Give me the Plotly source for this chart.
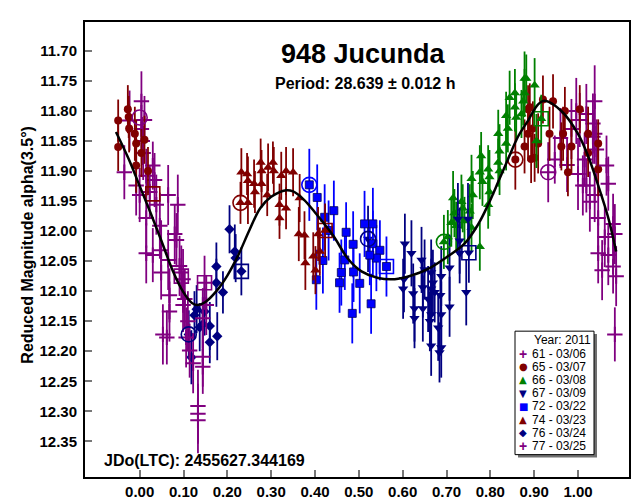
import plotly.graph_objects as go

sessions = ["61 - 03/06", "65 - 03/07", "66 - 03/08", "67 - 03/09",
            "72 - 03/22", "74 - 03/23", "76 - 03/24", "77 - 03/25"]

phase_61 = [-0.035, -0.023, -0.008, 0.000, 0.004, 0.004, 0.006, 0.008, 0.011, 0.015,
            0.015, 0.023, 0.030, 0.034, 0.038, 0.046, 0.015, 0.030, 0.049, 0.049,
            0.932, 0.947, 0.960, 0.975, 0.985, 0.996, 1.000, 1.004, 1.011, 1.015,
            1.019, 1.019, 1.027, 1.034, 1.034, 1.038, 1.038, 1.038, 1.042, 1.046,
            1.046]
mag_61 = [11.902, 11.816, 11.924, 11.940, 11.784, 11.830, 11.850, 11.870, 11.815, 11.908,
          11.978, 11.935, 11.891, 11.915, 11.956, 11.991, 12.037, 12.040, 12.032, 12.069,
          11.902, 11.881, 11.845, 11.890, 11.830, 11.800, 11.905, 11.815, 11.924, 11.881,
          11.805, 11.924, 11.951, 11.821, 11.843, 11.784, 11.838, 11.940, 11.864, 11.978,
          12.037]
err_61 = [0.045, 0.05, 0.05, 0.045, 0.05, 0.04, 0.04, 0.045, 0.04, 0.045,
          0.05, 0.045, 0.04, 0.045, 0.05, 0.055, 0.05, 0.045, 0.05, 0.045,
          0.05, 0.04, 0.05, 0.045, 0.05, 0.055, 0.06, 0.045, 0.05, 0.045,
          0.05, 0.045, 0.05, 0.05, 0.045, 0.06, 0.05, 0.045, 0.05, 0.055,
          0.05]

phase_65 = [-0.049, -0.049, -0.027, -0.025, -0.024, -0.011, -0.008, -0.008, 0.011, 0.019,
            0.004, 0.857, 0.878, 0.886, 0.886, 0.890, 0.893, 0.897, 0.901, 0.909,
            0.920, 0.935, 0.943, 0.962, 0.966, 0.970, 0.977, 0.985, 1.004, 1.023,
            1.023, 1.046, 1.046]
mag_65 = [11.816, 11.860, 11.797, 11.810, 11.829, 11.838, 11.854, 11.891, 11.848, 11.900,
          11.870, 11.881, 11.859, 11.797, 11.838, 11.794, 11.880, 11.829, 11.878, 11.854,
          11.781, 11.838, 11.784, 11.859, 11.838, 11.800, 11.902, 11.859, 11.797, 11.838,
          11.870, 11.854, 11.897]
err_65 = [0.035, 0.04, 0.04, 0.035, 0.04, 0.045, 0.04, 0.045, 0.04, 0.04,
          0.04, 0.05, 0.045, 0.04, 0.045, 0.04, 0.04, 0.045, 0.04, 0.05,
          0.04, 0.045, 0.045, 0.04, 0.045, 0.04, 0.04, 0.045, 0.04, 0.045,
          0.04, 0.04, 0.045]

phase_66 = [0.694, 0.703, 0.711, 0.715, 0.718, 0.722, 0.734, 0.737, 0.741, 0.753,
            0.757, 0.760, 0.757, 0.776, 0.776, 0.779, 0.782, 0.795, 0.798, 0.798,
            0.795, 0.818, 0.821, 0.818, 0.821, 0.836, 0.840, 0.836, 0.844, 0.856,
            0.856, 0.859, 0.878, 0.878, 0.875, 0.871, 0.901, 0.882, 0.905, 0.916]
mag_66 = [12.018, 12.010, 11.986, 11.945, 11.970, 11.991, 11.951, 11.962, 11.983, 11.967,
          11.913, 11.940, 11.994, 12.026, 11.902, 11.875, 11.918, 11.897, 11.910, 11.935,
          11.956, 11.838, 11.867, 11.886, 11.900, 11.808, 11.829, 11.854, 11.778, 11.770,
          11.794, 11.811, 11.746, 11.770, 11.784, 11.805, 11.757, 11.746, 11.850, 11.813]
err_66 = [0.045, 0.045, 0.04, 0.045, 0.04, 0.04, 0.045, 0.04, 0.04, 0.045,
          0.04, 0.04, 0.04, 0.04, 0.045, 0.04, 0.04, 0.04, 0.045, 0.04,
          0.04, 0.04, 0.045, 0.04, 0.04, 0.04, 0.04, 0.045, 0.045, 0.04,
          0.04, 0.04, 0.045, 0.04, 0.04, 0.04, 0.045, 0.04, 0.045, 0.04]

phase_67 = [0.521, 0.601, 0.603, 0.605, 0.620, 0.624, 0.627, 0.627, 0.643, 0.646,
            0.646, 0.650, 0.658, 0.662, 0.665, 0.665, 0.665, 0.665, 0.669, 0.673,
            0.681, 0.684, 0.686, 0.688, 0.688, 0.688, 0.707, 0.707, 0.726, 0.730,
            0.730, 0.745, 0.749, 0.751]
mag_67 = [12.013, 12.096, 12.080, 12.021, 12.037, 12.104, 12.129, 12.145, 12.048, 12.094,
          12.129, 12.064, 12.113, 12.150, 12.069, 12.096, 12.139, 12.191, 12.086, 12.102,
          12.161, 12.202, 12.107, 12.075, 12.139, 12.194, 12.061, 12.126, 11.980, 12.016,
          12.037, 12.102, 11.980, 12.036]
err_67 = [0.055, 0.05, 0.055, 0.05, 0.055, 0.05, 0.055, 0.05, 0.055, 0.05,
          0.055, 0.05, 0.055, 0.05, 0.055, 0.05, 0.055, 0.05, 0.055, 0.05,
          0.055, 0.05, 0.055, 0.05, 0.055, 0.05, 0.055, 0.05, 0.06, 0.055,
          0.05, 0.055, 0.06, 0.05]

phase_72 = [0.387, 0.405, 0.443, 0.422, 0.431, 0.418, 0.403, 0.456, 0.460, 0.471,
            0.468, 0.487, 0.488, 0.502, 0.513, 0.532, 0.528, 0.485, 0.532, 0.548,
            0.540, 0.525, 0.563]
mag_72 = [11.923, 11.944, 11.966, 11.977, 11.999, 12.049, 12.081, 12.086, 12.069, 12.002,
          12.048, 12.022, 12.068, 12.087, 11.988, 11.988, 12.121, 12.137, 12.021, 12.032,
          12.045, 12.040, 12.059]
err_72 = [0.06, 0.055, 0.05, 0.055, 0.05, 0.055, 0.05, 0.05, 0.055, 0.05,
          0.05, 0.055, 0.05, 0.05, 0.055, 0.06, 0.05, 0.05, 0.055, 0.05,
          0.055, 0.05, 0.05]

phase_74 = [0.230, 0.232, 0.245, 0.247, 0.247, 0.261, 0.263, 0.276, 0.278, 0.278,
            0.291, 0.293, 0.304, 0.306, 0.319, 0.323, 0.319, 0.334, 0.334, 0.350,
            0.365, 0.363, 0.376, 0.378, 0.396, 0.407, 0.411, 0.401, 0.423]
mag_74 = [11.953, 11.902, 11.905, 11.916, 11.953, 11.921, 11.935, 11.886, 11.900, 11.921,
          11.940, 11.894, 11.886, 11.900, 11.956, 11.908, 11.978, 11.900, 11.962, 11.902,
          11.945, 12.005, 12.007, 12.053, 12.042, 12.005, 12.034, 12.065, 11.999]
err_74 = [0.035, 0.04, 0.035, 0.04, 0.035, 0.04, 0.035, 0.04, 0.035, 0.04,
          0.035, 0.04, 0.035, 0.04, 0.035, 0.04, 0.035, 0.04, 0.035, 0.04,
          0.04, 0.045, 0.04, 0.045, 0.04, 0.045, 0.04, 0.04, 0.045]

phase_76 = [0.112, 0.118, 0.125, 0.130, 0.137, 0.144, 0.148, 0.160, 0.160, 0.175,
            0.175, 0.177, 0.190, 0.205, 0.217, 0.219, 0.232]
mag_76 = [12.172, 12.210, 12.140, 12.130, 12.160, 12.155, 12.134, 12.158, 12.185, 12.059,
          12.086, 12.175, 12.102, 11.997, 12.034, 12.045, 12.067]
err_76 = [0.04, 0.045, 0.04, 0.04, 0.04, 0.045, 0.04, 0.04, 0.035, 0.04,
          0.04, 0.04, 0.035, 0.04, 0.045, 0.04, 0.04]

phase_77 = [0.065, 0.065, 0.068, 0.068, 0.053, 0.062, 0.080, 0.084, 0.087, 0.091,
            0.095, 0.099, 0.103, 0.099, 0.110, 0.106, 0.114, 0.122, 0.133, 0.133,
            0.133, 0.144, 0.144, 0.144, 0.152, 0.148, 1.061, 1.065, 1.069, 1.069,
            1.080, 1.080, 1.084, 1.087, 1.084, 1.055]
mag_77 = [11.940, 12.048, 12.107, 12.134, 12.172, 12.177, 12.005, 12.015, 11.956, 12.058,
          12.069, 12.080, 12.113, 12.123, 12.150, 12.177, 12.199, 12.220, 12.291, 12.304,
          12.315, 12.209, 12.226, 12.145, 12.123, 12.086, 12.010, 11.891, 11.921, 12.040,
          11.988, 12.059, 12.005, 12.075, 12.172, 12.065]
err_77 = [0.05, 0.05, 0.045, 0.05, 0.05, 0.045, 0.05, 0.045, 0.05, 0.05,
          0.045, 0.05, 0.05, 0.045, 0.05, 0.05, 0.045, 0.05, 0.06, 0.05,
          0.055, 0.05, 0.045, 0.05, 0.05, 0.045, 0.05, 0.05, 0.045, 0.05,
          0.05, 0.045, 0.05, 0.05, 0.045, 0.05]

# session start (ring) and end (box) markers: (phase, mag)
ring_pts = {"61 - 03/06": (0.932, 11.902), "65 - 03/07": (0.857, 11.881),
            "66 - 03/08": (0.694, 12.018), "67 - 03/09": (0.521, 12.013),
            "72 - 03/22": (0.387, 11.923), "74 - 03/23": (0.230, 11.953),
            "76 - 03/24": (0.112, 12.172), "77 - 03/25": (0.000, 11.811)}
box_pts = {"61 - 03/06": (0.095, 12.075), "65 - 03/07": (0.030, 11.938),
           "66 - 03/08": (0.916, 11.813), "67 - 03/09": (0.751, 12.036),
           "72 - 03/22": (0.563, 12.059), "74 - 03/23": (0.423, 11.999),
           "76 - 03/24": (0.232, 12.067), "77 - 03/25": (0.148, 12.086)}

# fourier fit as drawn
fit_phase = [-0.054, -0.025, 0.000, 0.025, 0.050, 0.075, 0.100, 0.120, 0.133, 0.150,
             0.175, 0.200, 0.225, 0.250, 0.275, 0.300, 0.334, 0.350, 0.375, 0.400,
             0.441, 0.476, 0.506, 0.544, 0.582, 0.620, 0.658, 0.703, 0.741, 0.772,
             0.795, 0.818, 0.840, 0.863, 0.886, 0.909, 0.924, 0.962, 1.000, 1.023,
             1.046, 1.069, 1.087]
fit_mag = [11.835, 11.880, 11.925, 11.970, 12.017, 12.065, 12.102, 12.120, 12.123, 12.118,
           12.100, 12.074, 12.040, 11.999, 11.962, 11.943, 11.932, 11.934, 11.948, 11.969,
           12.007, 12.047, 12.067, 12.078, 12.080, 12.074, 12.063, 12.042, 12.021, 11.989,
           11.956, 11.918, 11.881, 11.843, 11.816, 11.789, 11.783, 11.800, 11.838, 11.875,
           11.924, 11.978, 12.034]

x_ticks = [0.0, 0.1, 0.2, 0.3, 0.4, 0.5, 0.6, 0.7, 0.8, 0.9, 1.0]
y_ticks = [11.70, 11.75, 11.80, 11.85, 11.90, 11.95, 12.00, 12.05, 12.10, 12.15,
           12.20, 12.25, 12.30, 12.35]

series = {
    "61 - 03/06": (phase_61, mag_61, err_61),
    "65 - 03/07": (phase_65, mag_65, err_65),
    "66 - 03/08": (phase_66, mag_66, err_66),
    "67 - 03/09": (phase_67, mag_67, err_67),
    "72 - 03/22": (phase_72, mag_72, err_72),
    "74 - 03/23": (phase_74, mag_74, err_74),
    "76 - 03/24": (phase_76, mag_76, err_76),
    "77 - 03/25": (phase_77, mag_77, err_77),
}

# style per session: colour, plotly symbol, size, legend glyph
style = {
    "61 - 03/06": ("#800080", "cross-thin", 11, "+"),
    "65 - 03/07": ("#800000", "circle", 8, "\u25CF"),
    "66 - 03/08": ("#008000", "triangle-up", 9, "\u25B2"),
    "67 - 03/09": ("#000080", "triangle-down", 9, "\u25BC"),
    "72 - 03/22": ("#0000FF", "square", 8, "\u25A0"),
    "74 - 03/23": ("#800000", "triangle-up", 9, "\u25B2"),
    "76 - 03/24": ("#000080", "diamond", 8, "\u25C6"),
    "77 - 03/25": ("#800080", "cross-thin", 11, "+"),
}

FONT = "Liberation Sans, Arial, sans-serif"

fig = go.Figure()

for name in sessions:
    ph, mg, er = series[name]
    col, sym, size, _ = style[name]
    marker = dict(color=col, symbol=sym, size=size)
    if sym == "cross-thin":
        marker["line"] = dict(color=col, width=2)
    elif sym == "square":
        marker["line"] = dict(color="#000060", width=0.8)
    fig.add_trace(go.Scatter(
        x=ph, y=mg, mode="markers", name=name, showlegend=False,
        marker=marker,
        error_y=dict(type="data", array=er, thickness=1.8, width=0, color=col),
    ))

# open ring / box marking first and last point of each session
for name in sessions:
    col = style[name][0]
    rp, bp = ring_pts[name], box_pts[name]
    fig.add_trace(go.Scatter(
        x=[rp[0]], y=[rp[1]], mode="markers", showlegend=False,
        marker=dict(symbol="circle-open", size=15, color=col, line=dict(color=col, width=1.6)),
    ))
    fig.add_trace(go.Scatter(
        x=[bp[0]], y=[bp[1]], mode="markers", showlegend=False,
        marker=dict(symbol="square-open", size=14, color=col, line=dict(color=col, width=1.6)),
    ))

fig.add_trace(go.Scatter(
    x=fit_phase, y=fit_mag, mode="lines", line=dict(color="black", width=2.5, shape="spline"),
    showlegend=False,
))

# plot area in pixels: x 77..621, y 12..480
L, R, T, B = 77, 621, 12, 480


def px(xp):
    return (xp - L) / (R - L)


def py(yp):
    return (B - yp) / (B - T)


annotations = [
    dict(text="<b>948 Jucunda</b>", x=px(355), y=py(45), font=dict(size=27)),
    dict(text="<b>Period: 28.639 \u00b1 0.012 h</b>", x=px(357), y=py(75), font=dict(size=16)),
    dict(text="<b>JDo(LTC): 2455627.344169</b>", x=px(95), y=py(463), xanchor="left",
         font=dict(size=16)),
    dict(text="<b>Reduced Magnitude alpha(3.5\u00b0)</b>", x=px(20), y=py(241), textangle=-90,
         font=dict(size=16)),
    dict(text="Year: 2011", x=px(584), y=py(339), xanchor="right", font=dict(size=12)),
]
for i, name in enumerate(sessions):
    col, _, _, glyph = style[name]
    yrow = py(353 + 13.6 * i)
    if glyph == "+":
        gfont = dict(size=14, color=col, family=FONT)
        gtext = "<b>+</b>"
    else:
        gfont = dict(size=10, color=col, family="DejaVu Sans")
        gtext = glyph
    annotations.append(dict(text=gtext, x=px(515), y=yrow, font=gfont))
    annotations.append(dict(text=name, x=px(523), y=yrow, xanchor="left", font=dict(size=12)))

for a in annotations:
    a.setdefault("xref", "paper")
    a.setdefault("yref", "paper")
    a.setdefault("showarrow", False)
    a.setdefault("xanchor", "center")
    a.setdefault("yanchor", "middle")
    a.setdefault("borderpad", 0)
    a["font"].setdefault("family", FONT)
    a["font"].setdefault("color", "black")

shapes = [
    # legend shadow and box
    dict(type="rect", xref="paper", yref="paper", x0=px(510), x1=px(589), y0=py(460), y1=py(333),
         fillcolor="#707070", line=dict(width=0)),
    dict(type="rect", xref="paper", yref="paper", x0=px(507), x1=px(586), y0=py(457), y1=py(330),
         fillcolor="white", line=dict(color="black", width=1)),
]

axis_common = dict(
    showline=True, linecolor="black", linewidth=2, mirror=True,
    ticks="inside", ticklen=7, tickwidth=1.5, tickcolor="#777777",
    showgrid=False, zeroline=False,
    tickfont=dict(family=FONT, size=15, color="black", weight="bold"),
)

fig.update_layout(
    width=641, height=504,
    margin=dict(l=L, r=641 - R, t=T, b=504 - B),
    paper_bgcolor="white", plot_bgcolor="white",
    showlegend=False,
    xaxis=dict(range=[-0.1247, 1.1163], tickvals=x_ticks, tickformat=".2f", **axis_common),
    yaxis=dict(range=[12.4094, 11.6519], tickvals=y_ticks, tickformat=".2f",
               ticklabelstandoff=3, **axis_common),
    annotations=annotations,
    shapes=shapes,
)

fig.write_html("out.html")
